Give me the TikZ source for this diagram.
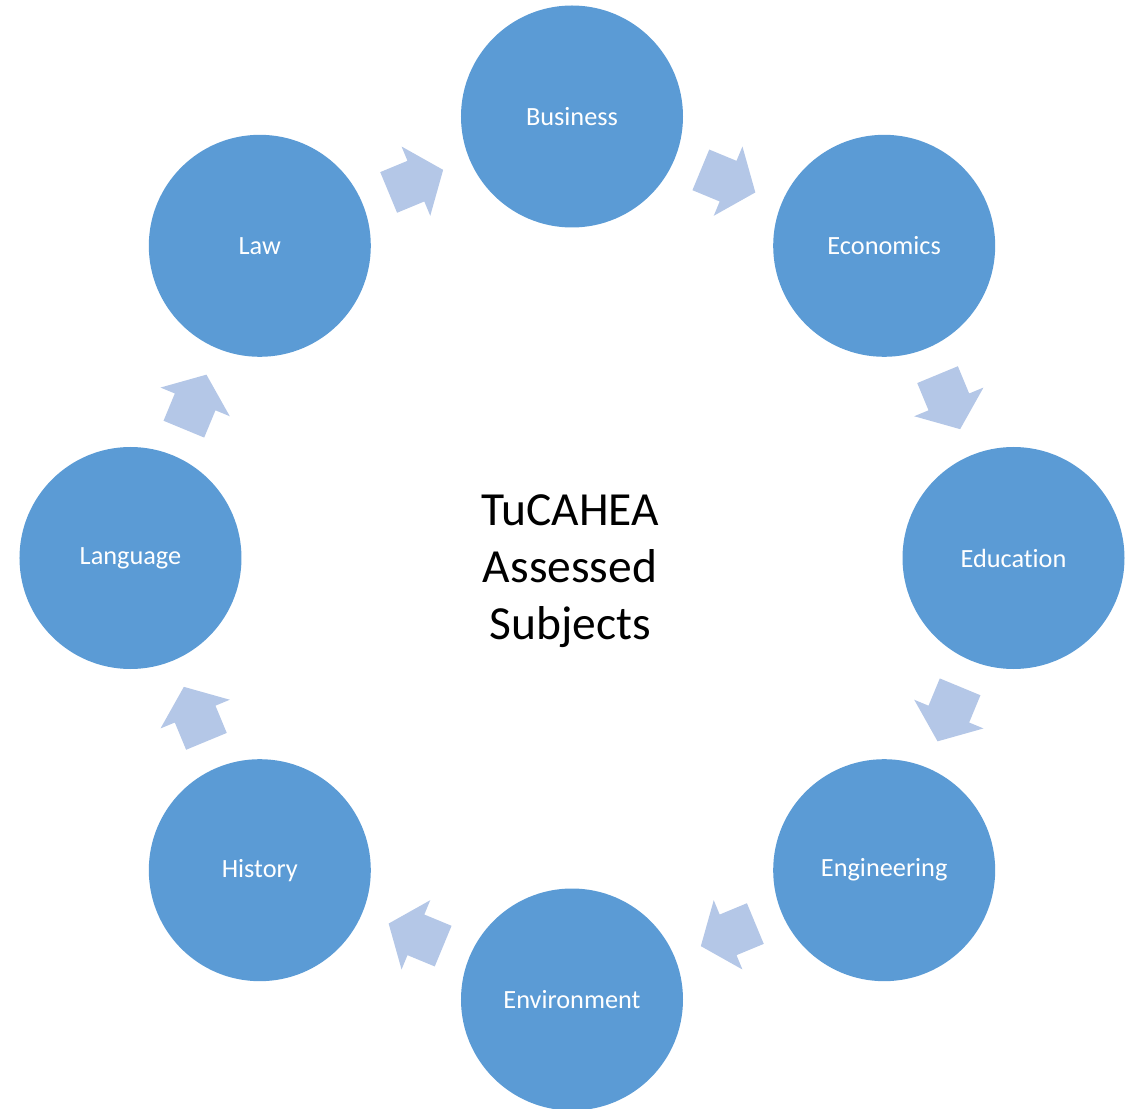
\documentclass[tikz,border=0pt]{standalone}
\usepackage{fontspec}
\setmainfont[Ligatures={NoCommon}]{Carlito}
\usetikzlibrary{calc}
\definecolor{circblue}{HTML}{5B9BD5}
\definecolor{arrblue}{HTML}{B4C7E7}
\tikzset{
  subj/.style={circle, fill=circblue, draw=none, minimum size=222pt, inner sep=0pt,
    text=white, font=\fontsize{26.3}{31}\selectfont},
  centertext/.style={align=center, text=black, font=\fontsize{47.5}{57}\selectfont},
  blockarrow/.style={fill=arrblue, draw=none}
}
\begin{document}
\begin{tikzpicture}[x=1pt,y=1pt]
  \useasboundingbox (-572,-550) rectangle (560,558);
  \clip (-572,-550) rectangle (560,558);
  \node[subj] (business)    at (90:441.5)   {Business};
  \node[subj] (economics)   at (45:441.5)   {Economics};
  \node[subj] (education)   at (0:441.5)    {Education};
  \node[subj] (engineering) at (-45:441.5)  {Engineering};
  \node[subj] (environment) at (-90:441.5)  {Environment};
  \node[subj] (history)     at (-135:441.5) {History};
  \node[subj] (language)    at (180:441.5)  {Language};
  \node[subj] (law)         at (135:441.5)  {Law};
  \node[centertext] (title) at (-2,-13) {TuCAHEA\\Assessed\\Subjects};
  \foreach \a/\b/\ang in {law/business/22.5, business/economics/-22.5,
      economics/education/-67.5, education/engineering/-112.5,
      engineering/environment/-157.5, environment/history/157.5,
      history/language/112.5, language/law/67.5} {
    \begin{scope}[shift={($(\a.center)!0.5!(\b.center)$)}, rotate=\ang]
      \fill[blockarrow] (-29.5,-22) -- (0,-22) -- (0,-37.5) -- (29.5,0)
        -- (0,37.5) -- (0,22) -- (-29.5,22) -- cycle;
    \end{scope}
  }
\end{tikzpicture}
\end{document}
